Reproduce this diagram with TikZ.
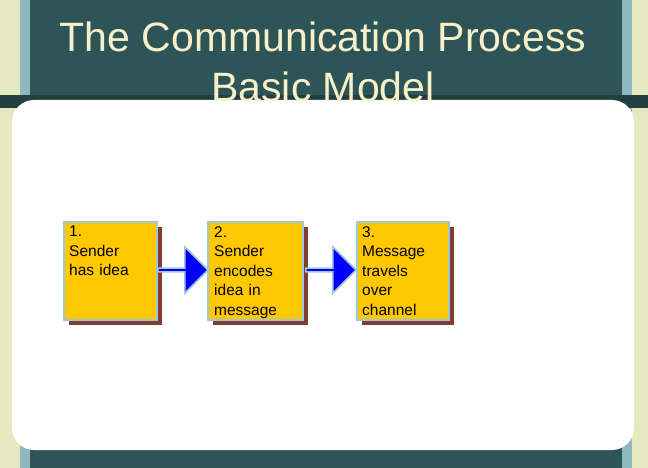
\documentclass[tikz,border=0pt]{standalone}
\usepackage{fontspec}
\setmainfont{Liberation Sans}
\usetikzlibrary{positioning,shapes.arrows,calc}
\definecolor{slidebg}{HTML}{2D5558}
\definecolor{slidedark}{HTML}{22403F}
\definecolor{stripecream}{HTML}{E6E8C0}
\definecolor{stripeblue}{HTML}{8FB8C0}
\definecolor{titlecream}{HTML}{F8F0C8}
\definecolor{boxfill}{HTML}{FFC800}
\definecolor{boxedge}{HTML}{9CC8D8}
\definecolor{boxshadow}{HTML}{843C30}
\tikzset{
  stepbox/.style={draw=boxedge, line width=2pt, fill=boxfill},
  steptext/.style={text width=88pt, align=left, inner sep=0pt, anchor=north west,
    font=\fontsize{15.5}{19.5}\selectfont},
  stepshadow/.style={fill=boxshadow},
  flowarrow/.style={single arrow, draw=boxedge, line width=1.5pt, fill=blue,
    minimum height=50pt, minimum width=46pt, single arrow head extend=8pt, inner sep=0pt}
}
\begin{document}
\begin{tikzpicture}[x=1pt,y=-1pt]
    \useasboundingbox (0,0) rectangle (648,468);
    % slide background
    \fill [slidebg] (0,0) rectangle (648,468);
    \fill [stripecream] (0,0) rectangle (20,468);
    \fill [stripeblue] (20,0) rectangle (30,468);
    \fill [stripeblue] (622,0) rectangle (632,468);
    \fill [stripecream] (632,0) rectangle (648,468);
    \fill [slidedark] (0,95) rectangle (648,108);
    \fill [slidebg] (30,0) rectangle (622,95);
    \fill [white, rounded corners=22pt] (12,100) rectangle (634,450);
    % title
    \node (title) [text=titlecream, align=center, font=\fontsize{41}{50}\selectfont] at (323,62)
        {The Communication Process\\Basic Model};
    % steps
    \fill [stepshadow] (69,227) rectangle (162,325);
    \fill [stepshadow] (213,227) rectangle (308,325);
    \fill [stepshadow] (362,227) rectangle (454,325);
    \draw [stepbox] (64,222) rectangle (157,320);
    \draw [stepbox] (208,222) rectangle (303,320);
    \draw [stepbox] (357,222) rectangle (449,320);
    \node (sender) [steptext] at (69,226) {1.\\Sender\\has idea};
    \node (encode) [steptext] at (214,226) {2.\\Sender\\encodes\\idea in\\message};
    \node (travel) [steptext] at (362,226) {3.\\Message\\travels\\over\\channel};
    \node (arrowa) [flowarrow] at (182,270) {};
    \node (arrowb) [flowarrow] at (330,270) {};
\end{tikzpicture}
\end{document}
